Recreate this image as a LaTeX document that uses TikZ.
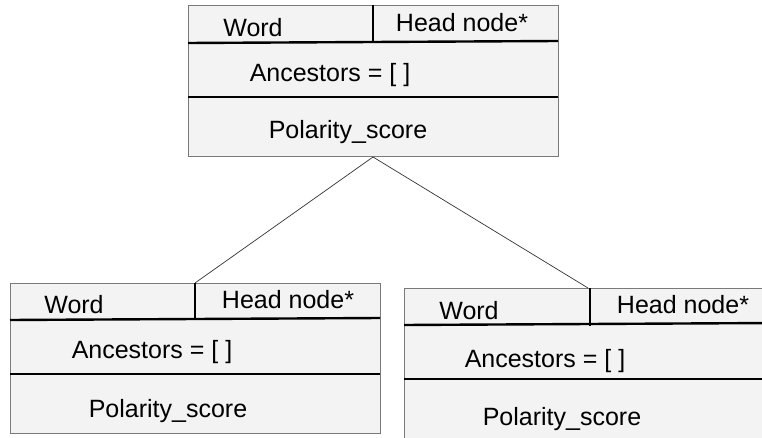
\documentclass[tikz,border=0pt]{standalone}
\usepackage{fontspec}
\setmainfont{Liberation Sans}
\definecolor{boxfill}{HTML}{F3F3F3}
\definecolor{boxline}{HTML}{7A7A7A}
\tikzset{
  recbox/.style={draw=boxline, fill=boxfill, line width=0.8pt, anchor=north west, inner sep=0pt},
  divider/.style={draw=black, line width=2.4pt},
  field/.style={anchor=base, inner sep=0pt, font=\fontsize{25}{30}\selectfont},
  link/.style={draw=black!80, line width=0.7pt}
}
\begin{document}
\begin{tikzpicture}[x=1pt, y=-1pt]
        \useasboundingbox (0,0) rectangle (762,438);
        \clip (0,0) rectangle (762,438);
        % parent record
        \node[recbox, minimum width=370pt, minimum height=151pt] (parent) at (188,5) {};
        \draw[divider] (188,43) -- (558,41);
        \draw[divider] (373,5) -- (373,43);
        \draw[divider] (188,97) -- (558,97);
        \node[field] (pword) at (253,37) {Word};
        \node[field] (phead) at (462,32) {Head node*};
        \node[field] (panc) at (330,82) {Ancestors = [ ]};
        \node[field] (ppol) at (348,139) {Polarity\_score};
        % left child record
        \node[recbox, minimum width=370pt, minimum height=150pt] (lchild) at (10,283) {};
        \draw[divider] (10,320) -- (380,318);
        \draw[divider] (195,283) -- (195,320);
        \draw[divider] (10,374) -- (380,374);
        \node[field] (lword) at (74,313) {Word};
        \node[field] (lhead) at (288,308) {Head node*};
        \node[field] (lanc) at (152,358) {Ancestors = [ ]};
        \node[field] (lpol) at (168,417) {Polarity\_score};
        % right child record
        \node[recbox, minimum width=370pt, minimum height=160pt] (rchild) at (404,288) {};
        \draw[divider] (404,325) -- (774,323);
        \draw[divider] (590,288) -- (590,326);
        \draw[divider] (404,379) -- (774,379);
        \node[field] (rword) at (469,319) {Word};
        \node[field] (rhead) at (683,313) {Head node*};
        \node[field] (ranc) at (545,367) {Ancestors = [ ]};
        \node[field] (rpol) at (562,425) {Polarity\_score};
        % tree edges
        \coordinate (apex) at (373,157);
        \coordinate (ltop) at (195,283);
        \coordinate (rtop) at (588,288);
        \draw[link] (apex) -- (ltop);
        \draw[link] (apex) -- (rtop);
\end{tikzpicture}
\end{document}
